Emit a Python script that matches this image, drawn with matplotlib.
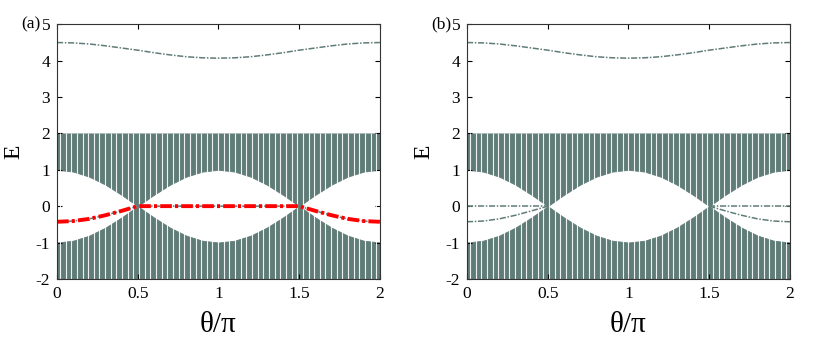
import numpy as np
import matplotlib
matplotlib.use("Agg")
import matplotlib.pyplot as plt

plt.rcParams["font.family"] = ["Liberation Serif", "DejaVu Serif"]
plt.rcParams["axes.unicode_minus"] = False

GRAY = "#607c78"
RED = "#ff0000"

# theta/pi sample points (every 0.1)
theta = [0.0, 0.1, 0.2, 0.3, 0.4, 0.5, 0.6, 0.7, 0.8, 0.9, 1.0,
         1.1, 1.2, 1.3, 1.4, 1.5, 1.6, 1.7, 1.8, 1.9, 2.0]

# inner edge of the bulk bands (upper band starts here, lower band is its mirror)
band_edge = [1.00, 0.95, 0.81, 0.59, 0.31, 0.00, 0.31, 0.59, 0.81, 0.95, 1.00,
             0.95, 0.81, 0.59, 0.31, 0.00, 0.31, 0.59, 0.81, 0.95, 1.00]
band_outer = [2.0] * len(theta)

# isolated upper state
top_state = [4.50, 4.49, 4.46, 4.41, 4.35, 4.29, 4.22, 4.16, 4.11, 4.08, 4.07,
             4.08, 4.11, 4.16, 4.22, 4.29, 4.35, 4.41, 4.46, 4.49, 4.50]

# in-gap state of panel (a)
gap_state_a = [-0.43, -0.41, -0.35, -0.25, -0.13, 0.00, 0.00, 0.00, 0.00, 0.00, 0.00,
               0.00, 0.00, 0.00, 0.00, 0.00, -0.13, -0.25, -0.35, -0.41, -0.43]

# in-gap states of panel (b), only on the two outer segments
theta_left = [0.0, 0.1, 0.2, 0.3, 0.4, 0.5]
theta_right = [1.5, 1.6, 1.7, 1.8, 1.9, 2.0]
flat_left = [0.00, 0.00, 0.00, 0.00, 0.00, 0.00]
curve_left = [-0.43, -0.41, -0.35, -0.25, -0.13, 0.00]
flat_right = [0.00, 0.00, 0.00, 0.00, 0.00, 0.00]
curve_right = [0.00, -0.13, -0.25, -0.35, -0.41, -0.43]

EDGE_LS = (0, (4.0, 1.1, 1.0, 1.1))
RED_LS = (0, (3.0, 0.8, 0.8, 0.8))
STRIPE_STEP = 0.035  # spacing of the white gaps in the dense bulk spectrum


def draw_bulk(ax):
    edge = np.array(band_edge)
    outer = np.array(band_outer)
    ax.fill_between(theta, edge, outer, color=GRAY, lw=0.6, edgecolor=GRAY, zorder=1)
    ax.fill_between(theta, -outer, -edge, color=GRAY, lw=0.6, edgecolor=GRAY, zorder=1)
    # thin white gaps between the dashed level lines (white on white in the gap)
    xs = np.arange(0.018, 2.0, STRIPE_STEP)
    ax.vlines(xs, -2, 2, color="white", lw=0.8, alpha=0.9, zorder=2)


def style_axes(ax, tag):
    ax.set_xlim(0, 2)
    ax.set_ylim(-2, 5)
    ax.set_xticks([0, 0.5, 1, 1.5, 2])
    ax.set_xticklabels(["0", "0.5", "1", "1.5", "2"])
    ax.set_yticks(range(-2, 6))
    ax.tick_params(direction="in", length=3.5, width=0.8, top=True, right=True,
                   labelsize=12.5, pad=5)
    for sp in ax.spines.values():
        sp.set_linewidth(0.8)
        sp.set_color("#333333")
        sp.set_zorder(5)
    ax.set_xlabel("θ/π", fontsize=21, labelpad=7)
    ax.set_ylabel("E", fontsize=17, labelpad=8)
    ax.text(-0.05, 1.0, tag, transform=ax.transAxes, fontsize=12.5,
            ha="right", va="center")


fig = plt.figure(figsize=(8.3, 3.43), dpi=100)
ax_a = fig.add_axes([0.0687, 0.187, 0.389, 0.742])
ax_b = fig.add_axes([0.5627, 0.187, 0.389, 0.742])

# (a)
draw_bulk(ax_a)
ax_a.plot(theta, top_state, color=GRAY, lw=1.1, ls=EDGE_LS, zorder=3)
ax_a.plot(theta, gap_state_a, color=GRAY, lw=1.1, ls=EDGE_LS, zorder=3)
ax_a.plot(theta, gap_state_a, color=RED, lw=2.8, ls=RED_LS, zorder=4)
style_axes(ax_a, "(a)")

# (b)
draw_bulk(ax_b)
ax_b.plot(theta, top_state, color=GRAY, lw=1.1, ls=EDGE_LS, zorder=3)
ax_b.plot(theta_left, flat_left, color=GRAY, lw=1.1, ls=EDGE_LS, zorder=3)
ax_b.plot(theta_left, curve_left, color=GRAY, lw=1.1, ls=EDGE_LS, zorder=3)
ax_b.plot(theta_right, flat_right, color=GRAY, lw=1.1, ls=EDGE_LS, zorder=3)
ax_b.plot(theta_right, curve_right, color=GRAY, lw=1.1, ls=EDGE_LS, zorder=3)
style_axes(ax_b, "(b)")

fig.savefig("out.png", dpi=100)
